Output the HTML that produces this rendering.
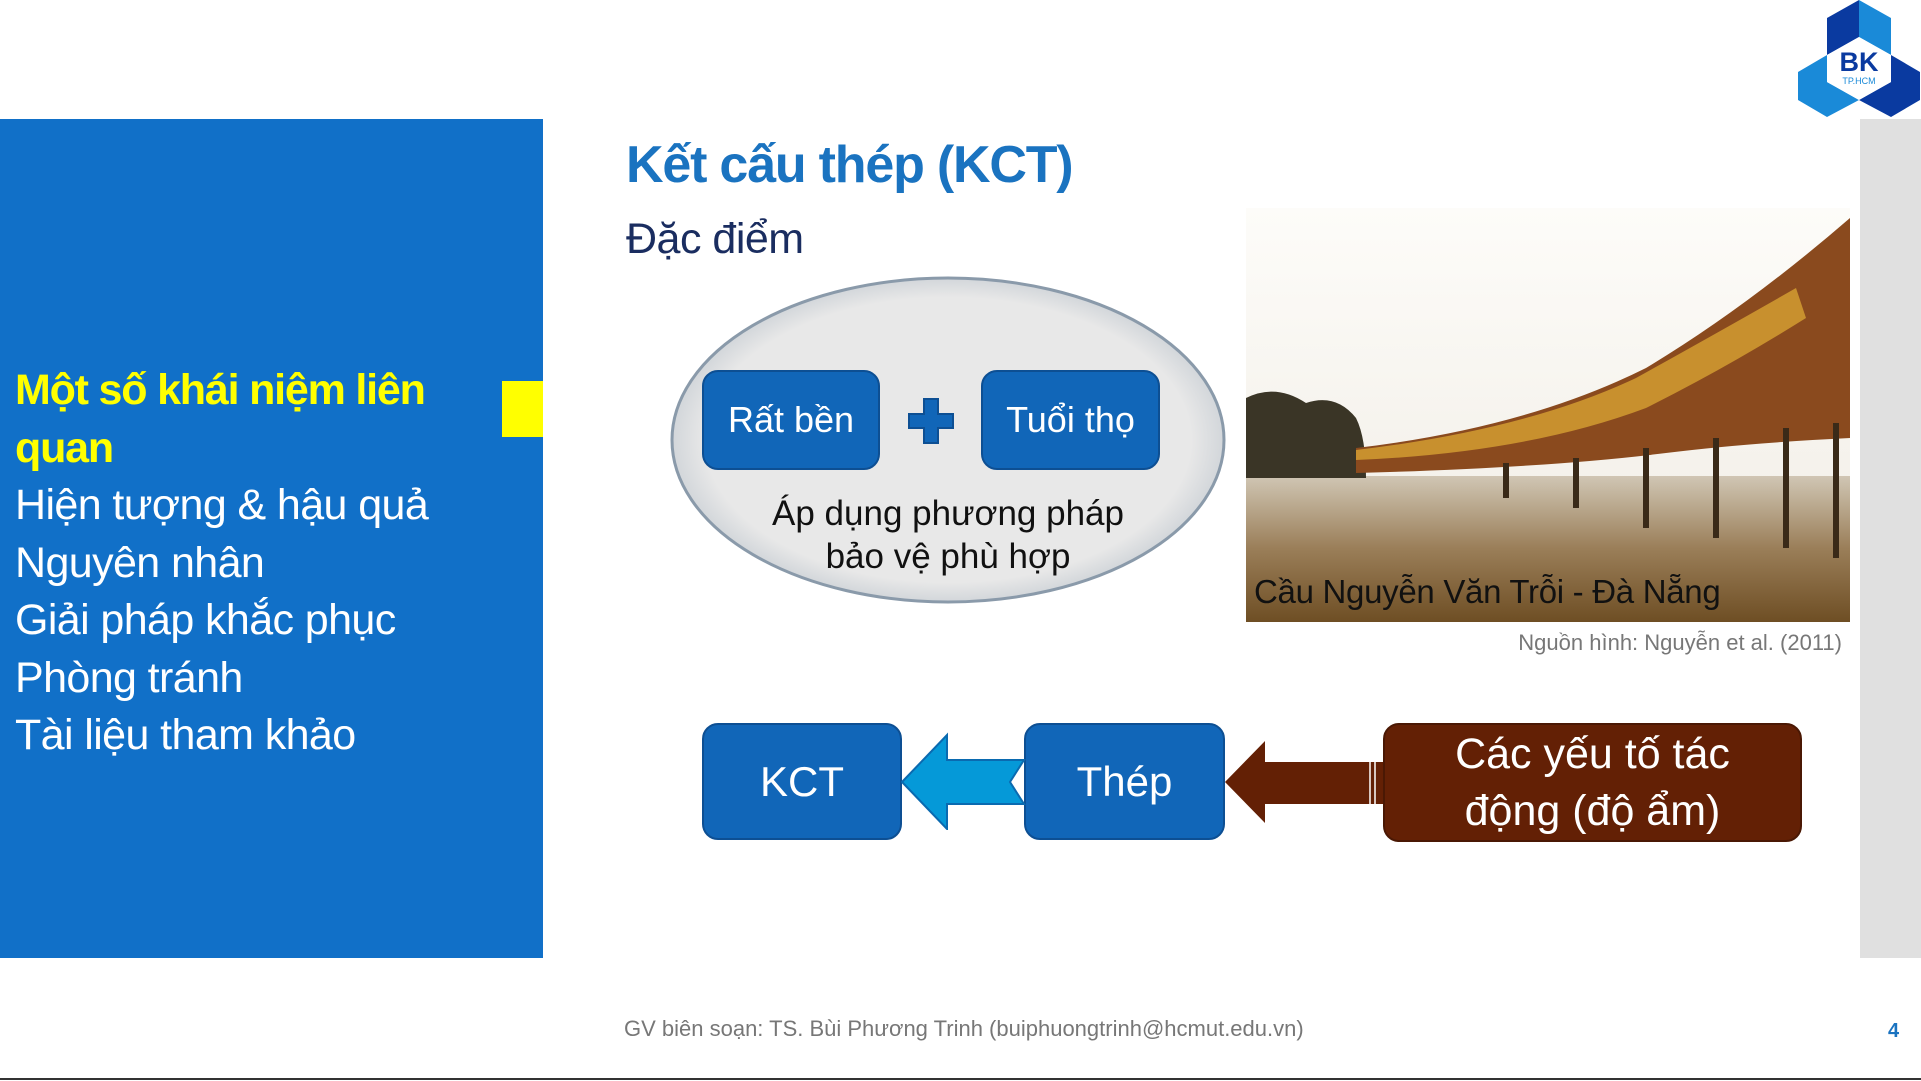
<!DOCTYPE html>
<html><head><meta charset="utf-8"><style>
body{margin:0;width:1921px;height:1081px;position:relative;overflow:hidden;background:#fff;font-family:"Liberation Sans","DejaVu Sans",sans-serif;}
.a{position:absolute;white-space:nowrap;}
#left{left:0;top:119px;width:543px;height:839px;background:#1170c8;}
#menu{left:15px;top:362px;font-size:43px;line-height:57.5px;color:#fff;letter-spacing:-0.6px;}
.box{position:absolute;background:#1166b8;border:2px solid #0d4f93;border-radius:16px;color:#fff;display:flex;align-items:center;justify-content:center;box-sizing:border-box;}
</style></head><body>
<div id="left" class="a"></div>
<div class="a" style="left:502px;top:381px;width:41px;height:56px;background:#ffff00"></div>
<div id="menu" class="a"><span style="color:#ffff00;font-weight:bold;letter-spacing:-1.2px">Một số khái niệm liên<br>quan</span><br>Hiện tượng &amp; hậu quả<br>Nguyên nhân<br>Giải pháp khắc phục<br>Phòng tránh<br>Tài liệu tham khảo</div>
<div class="a" style="left:1860px;top:119px;width:61px;height:839px;background:#e0e0e0"></div>
<svg class="a" style="left:1798px;top:0" width="122" height="118" viewBox="0 0 122 118">
<polygon points="61,0 93,18 93,55 61,37" fill="#1a8ad8"/>
<polygon points="61,0 29,18 29,55 61,37" fill="#0a3aa0"/>
<polygon points="93,55 122,72 122,100 93,117 61,100 93,82" fill="#0a3aa0"/>
<polygon points="29,55 0,72 0,100 29,117 61,100 29,82" fill="#1a8ad8"/>
<polygon points="61,37 93,55 93,82 61,100 29,82 29,55" fill="#fff"/>
<text x="61" y="71" font-size="27" font-weight="bold" fill="#0a3aa0" text-anchor="middle" font-family="Liberation Sans">BK</text>
<text x="61" y="84" font-size="9" fill="#1a8ad8" text-anchor="middle" font-family="Liberation Sans">TP.HCM</text>
</svg>
<div class="a" style="left:626px;top:135px;font-size:52px;font-weight:bold;color:#1a73c0;letter-spacing:-1.2px">Kết cấu thép (KCT)</div>
<div class="a" style="left:626px;top:215px;font-size:43px;color:#1a2d60;letter-spacing:-0.5px">Đặc điểm</div>
<svg class="a" style="left:666px;top:270px" width="570" height="340">
<defs><radialGradient id="g" cx="50%" cy="50%" r="50%"><stop offset="0.88" stop-color="#e8e8e8"/><stop offset="1" stop-color="#d2d6da"/></radialGradient></defs>
<ellipse cx="282" cy="170" rx="276" ry="162" fill="url(#g)" stroke="#8a9aaa" stroke-width="3"/>
</svg>
<div class="box" style="left:702px;top:370px;width:178px;height:100px;font-size:36px">Rất bền</div>
<div class="box" style="left:981px;top:370px;width:179px;height:100px;font-size:36px">Tuổi thọ</div>
<svg class="a" style="left:908px;top:398px" width="46" height="46"><polygon points="16,1 30,1 30,16 45,16 45,30 30,30 30,45 16,45 16,30 1,30 1,16 16,16" fill="#1166b8" stroke="#0d4f93" stroke-width="2"/></svg>
<div class="a" style="left:668px;top:492px;width:560px;text-align:center;font-size:35px;line-height:43px;color:#111">Áp dụng phương pháp<br>bảo vệ phù hợp</div>
<svg class="a" style="left:1246px;top:208px" width="604" height="414" viewBox="0 0 604 414">
<defs><linearGradient id="w" x1="0" y1="0" x2="0" y2="1"><stop offset="0" stop-color="#d0c6b4"/><stop offset="0.5" stop-color="#9a7e58"/><stop offset="1" stop-color="#6e4e24"/></linearGradient>
<linearGradient id="s" x1="0" y1="0" x2="0" y2="1"><stop offset="0" stop-color="#fdfcf9"/><stop offset="1" stop-color="#f0ece4"/></linearGradient></defs>
<rect width="604" height="414" fill="url(#s)"/>
<rect y="268" width="604" height="146" fill="url(#w)"/>
<path d="M0,270 L0,190 Q30,175 60,195 Q90,185 110,210 Q120,230 120,270Z" fill="#3a3526"/>
<path d="M110,240 Q280,220 400,160 Q500,100 604,10 L604,230 Q500,235 420,245 Q300,260 110,265Z" fill="#8a4a1e"/>
<path d="M110,242 Q280,222 390,170 Q480,120 550,80 L560,110 Q480,160 400,200 Q280,245 110,252Z" fill="#c8902e"/>
<g stroke="#3a2a18" stroke-width="6"><line x1="330" y1="250" x2="330" y2="300"/><line x1="400" y1="240" x2="400" y2="320"/><line x1="470" y1="230" x2="470" y2="330"/><line x1="540" y1="220" x2="540" y2="340"/><line x1="590" y1="215" x2="590" y2="350"/><line x1="260" y1="255" x2="260" y2="290"/></g>
</svg>
<div class="a" style="left:1254px;top:573px;font-size:33px;color:#111;letter-spacing:-0.3px">Cầu Nguyễn Văn Trỗi - Đà Nẵng</div>
<div class="a" style="right:79px;top:630px;font-size:22px;color:#777">Nguồn hình: Nguyễn et al. (2011)</div>
<div class="box" style="left:702px;top:723px;width:200px;height:117px;font-size:42px">KCT</div>
<div class="box" style="left:1024px;top:723px;width:201px;height:117px;font-size:42px">Thép</div>
<div class="box" style="left:1383px;top:723px;width:419px;height:119px;font-size:43px;line-height:57px;background:#632005;border-color:#4a1804;text-align:center">Các yếu tố tác<br>động (độ ẩm)</div>
<svg class="a" style="left:900px;top:730px" width="130" height="100"><polygon points="2,52 47,5 47,30 124,30 110,52 124,74 47,74 47,99" fill="#0599d8" stroke="#0a6ab0" stroke-width="2"/></svg>
<svg class="a" style="left:1223px;top:738px" width="162" height="90"><polygon points="2,44 42,3 42,24 160,24 160,66 42,66 42,85" fill="#632005"/><g stroke="#fff" stroke-width="1.5"><line x1="147" y1="24" x2="147" y2="66"/><line x1="152" y1="24" x2="152" y2="66"/></g></svg>
<div class="a" style="left:624px;top:1016px;font-size:22px;color:#777">GV biên soạn: TS. Bùi Phương Trinh (buiphuongtrinh@hcmut.edu.vn)</div>
<div class="a" style="left:1888px;top:1020px;font-size:20px;color:#1a73c0;font-weight:bold">4</div>
<div class="a" style="left:0;top:1078px;width:1921px;height:2px;background:#333"></div>
</body></html>
